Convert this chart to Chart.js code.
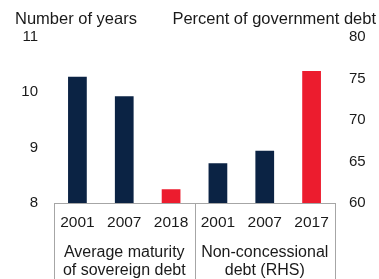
<!DOCTYPE html>
<html>
<head>
<meta charset="utf-8">
<script src="https://cdn.jsdelivr.net/npm/chart.js@4"></script>
<style>
html,body{margin:0;padding:0;background:#fff;}
#wrap{width:379px;height:279px;position:relative;}
</style>
</head>
<body>
<div id="wrap"><canvas id="c" width="379" height="279"></canvas></div>
<script>
const categories = ["2001", "2007", "2018", "2001", "2007", "2017"];
const maturityYears = [10.28, 9.93, 8.25, null, null, null];
const nonConcessionalPct = [null, null, null, 64.8, 66.3, 75.9];
const barColors = ["#0b2344", "#0b2344", "#ec1c2e", "#0b2344", "#0b2344", "#ec1c2e"];
const groupLabels = [["Average maturity", "of sovereign debt"], ["Non-concessional", "debt (RHS)"]];
const leftTitle = "Number of years";
const rightTitle = "Percent of government debt";

const FONT = "'Liberation Sans', Arial, sans-serif";
const TXT = "#1a1a1a";
const LINE = "#a6a6a6";

const overlay = {
  id: "overlay",
  afterDraw(chart) {
    const ctx = chart.ctx;
    const a = chart.chartArea;
    const x = chart.scales.x;
    const H = chart.height;
    const mid = (x.getPixelForTick(2) + x.getPixelForTick(3)) / 2;
    ctx.save();
    ctx.strokeStyle = LINE;
    ctx.lineWidth = 1;
    ctx.beginPath();
    ctx.moveTo(a.left, a.bottom + 0.5); ctx.lineTo(a.right, a.bottom + 0.5);
    [a.left, mid, a.right].forEach(px => {
      const p = Math.round(px) + 0.5;
      ctx.moveTo(p, a.bottom); ctx.lineTo(p, H);
    });
    ctx.stroke();
    ctx.fillStyle = TXT;
    ctx.font = "16.5px " + FONT;
    ctx.textBaseline = "alphabetic";
    ctx.textAlign = "left";
    ctx.fillText(leftTitle, 15, 24);
    ctx.textAlign = "right";
    ctx.fillText(rightTitle, 376, 24);
    ctx.font = "16px " + FONT;
    ctx.textAlign = "center";
    const centers = [(a.left + mid) / 2, (mid + a.right) / 2];
    groupLabels.forEach((lines, i) => {
      lines.forEach((t, j) => ctx.fillText(t, centers[i], 257 + j * 17.5));
    });
    ctx.restore();
  }
};

new Chart(document.getElementById("c"), {
  type: "bar",
  data: {
    labels: categories,
    datasets: [
      { data: maturityYears, yAxisID: "y", backgroundColor: barColors, grouped: false },
      { data: nonConcessionalPct, yAxisID: "y1", backgroundColor: barColors, grouped: false }
    ]
  },
  options: {
    responsive: false,
    animation: false,
    devicePixelRatio: 1,
    layout: { padding: { top: 37, left: 0, right: 0, bottom: 0 } },
    plugins: { legend: { display: false }, tooltip: { enabled: false } },
    datasets: { bar: { categoryPercentage: 1, barPercentage: 0.4 } },
    scales: {
      x: {
        grid: { display: false, drawTicks: false },
        border: { display: false },
        ticks: { font: { family: FONT, size: 15.5 }, color: TXT, padding: 10, maxRotation: 0, autoSkip: false },
        afterFit(s) { s.height = 76; }
      },
      y: {
        position: "left",
        min: 8, max: 11,
        grid: { display: false, drawTicks: false },
        border: { display: false },
        ticks: { stepSize: 1, font: { family: FONT, size: 15 }, color: TXT, padding: 16 },
        afterFit(s) { s.width = 54; }
      },
      y1: {
        position: "right",
        min: 60, max: 80,
        grid: { display: false, drawTicks: false },
        border: { display: false },
        ticks: { stepSize: 5, font: { family: FONT, size: 15 }, color: TXT, padding: 14 },
        afterFit(s) { s.width = 44; }
      }
    }
  },
  plugins: [overlay]
});
</script>
</body>
</html>
